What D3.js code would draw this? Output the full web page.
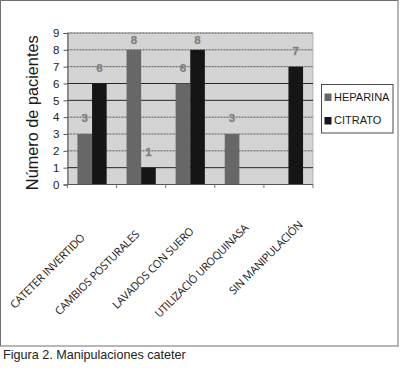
<!DOCTYPE html>
<html>
<head>
<meta charset="utf-8">
<script src="https://cdn.jsdelivr.net/npm/d3@7"></script>
<style>
  body { margin: 0; background: #fff; }
  svg { display: block; }
</style>
</head>
<body>
<div id="chart"></div>
<script>
const categories = ["CATETER INVERTIDO", "CAMBIOS POSTURALES", "LAVADOS CON SUERO", "UTILIZACIÓ UROQUINASA", "SIN MANIPULACIÓN"];
const series = ["HEPARINA", "CITRATO"];
const heparina = [3, 8, 6, 3, 0];
const citrato = [6, 1, 8, 0, 7];
const yTicks = [0, 1, 2, 3, 4, 5, 6, 7, 8, 9];
const solidGrid = [1, 5, 6];   // these gridlines look solid in the scan, the rest dotted
const colors = { HEPARINA: "#676767", CITRATO: "#151515" };

const width = 400, height = 387;
const plot = { left: 67.5, right: 313, top: 33, bottom: 184.5 };

const svg = d3.select("#chart").append("svg")
  .attr("width", width)
  .attr("height", height);

// outer frame
svg.append("rect")
  .attr("x", 0.5).attr("y", 0.5)
  .attr("width", 397.5).attr("height", 345.5)
  .attr("fill", "#fff")
  .attr("stroke", "#707070");

const x = d3.scaleBand().domain(categories).range([plot.left, plot.right]);
const x1 = d3.scaleBand().domain(series).range([0, x.bandwidth()]).paddingOuter(0.68);
const y = d3.scaleLinear().domain([0, 9]).range([plot.bottom, plot.top]);

// plot background
svg.append("rect")
  .attr("x", plot.left).attr("y", plot.top)
  .attr("width", plot.right - plot.left).attr("height", plot.bottom - plot.top)
  .attr("fill", "#d4d4d4")
  .attr("stroke", "#a8a8a8")
  .attr("stroke-width", 0.8);

// gridlines
svg.append("g").selectAll("line")
  .data(yTicks.filter(d => d > 0))
  .enter().append("line")
  .attr("x1", plot.left).attr("x2", plot.right)
  .attr("y1", d => y(d)).attr("y2", d => y(d))
  .attr("stroke", d => solidGrid.includes(d) ? "#262626" : "#5a5a5a")
  .attr("stroke-width", 1)
  .attr("stroke-dasharray", d => solidGrid.includes(d) ? null : "2,1");

// y axis
const yAxis = d3.axisLeft(y).tickValues(yTicks).tickSize(4).tickPadding(4);
const gY = svg.append("g")
  .attr("transform", `translate(${plot.left},0)`)
  .call(yAxis);
gY.select(".domain").attr("stroke", "#555");
gY.selectAll(".tick line").attr("stroke", "#555");
gY.selectAll(".tick text")
  .attr("fill", "#222")
  .style("font-family", "Liberation Sans, Arial, sans-serif")
  .style("font-size", "11.5px");

// bars
const rows = categories.map((c, i) => ({ cat: c, values: [
  { key: "HEPARINA", value: heparina[i] },
  { key: "CITRATO", value: citrato[i] }
]}));

const groups = svg.append("g").selectAll("g")
  .data(rows)
  .enter().append("g")
  .attr("transform", d => `translate(${x(d.cat)},0)`);

groups.selectAll("rect")
  .data(d => d.values.filter(v => v.value > 0))
  .enter().append("rect")
  .attr("x", d => x1(d.key))
  .attr("y", d => y(d.value))
  .attr("width", x1.bandwidth())
  .attr("height", d => y(0) - y(d.value))
  .attr("fill", d => colors[d.key]);

// value labels (pushed down when they would leave the plot, like Excel does)
groups.selectAll("text")
  .data(d => d.values.filter(v => v.value > 0))
  .enter().append("text")
  .attr("x", d => x1(d.key) + x1.bandwidth() / 2)
  .attr("y", d => Math.max(y(d.value) - 16, y(9) + 7))
  .attr("dy", "0.36em")
  .attr("text-anchor", "middle")
  .attr("fill", "#7c7c7c")
  .attr("stroke", "#8a8a8a")
  .attr("stroke-width", 0.3)
  .style("font-family", "Liberation Sans Narrow, Liberation Sans, Arial, sans-serif")
  .style("font-weight", "bold")
  .style("font-size", "11.5px")
  .text(d => d.value);

// x axis line and boundary ticks
svg.append("line")
  .attr("x1", plot.left).attr("x2", plot.right)
  .attr("y1", y(0)).attr("y2", y(0))
  .attr("stroke", "#555");
const bounds = categories.map(c => x(c)).concat([x(categories[categories.length - 1]) + x.bandwidth()]);
svg.append("g").selectAll("line")
  .data(bounds)
  .enter().append("line")
  .attr("x1", d => d).attr("x2", d => d)
  .attr("y1", y(0)).attr("y2", y(0) + 3.5)
  .attr("stroke", "#777");

// rotated category labels, placed on their own spacing as in the scan
const labelX = d3.scalePoint().domain(categories).range([85.5, 303.5]);
const labelY = d3.scalePoint().domain(categories).range([238.5, 225.5]);
svg.append("g").selectAll("text")
  .data(categories)
  .enter().append("text")
  .attr("transform", d => `translate(${labelX(d)},${labelY(d)}) rotate(-45)`)
  .attr("text-anchor", "end")
  .attr("fill", "#1a1a1a")
  .style("font-family", "Open Sans, sans-serif")
  .style("font-size", "11px")
  .style("letter-spacing", "-0.25px")
  .text(d => d);

// y axis title
svg.append("text")
  .attr("transform", `translate(38,${(plot.top + plot.bottom) / 2 + 4}) rotate(-90)`)
  .attr("text-anchor", "middle")
  .attr("fill", "#1a1a1a")
  .style("font-family", "Liberation Sans, Arial, sans-serif")
  .style("font-size", "16.3px")
  .text("Número de pacientes");

// legend
const legend = svg.append("g").attr("transform", "translate(321.5,84.5)");
legend.append("rect")
  .attr("width", 71.5).attr("height", 48.5)
  .attr("fill", "#fff")
  .attr("stroke", "#4a4a4a");
const item = legend.selectAll("g.item")
  .data(series)
  .enter().append("g")
  .attr("class", "item")
  .attr("transform", (d, i) => `translate(3,${12.5 + i * 23.5})`);
item.append("rect")
  .attr("x", 0).attr("y", -3.5)
  .attr("width", 7).attr("height", 7.5)
  .attr("fill", d => colors[d]);
item.append("text")
  .attr("x", 9.5)
  .attr("dy", "0.36em")
  .attr("fill", "#1a1a1a")
  .style("font-family", "Liberation Sans, Arial, sans-serif")
  .style("font-size", "11px")
  .text(d => d);

// caption
svg.append("text")
  .attr("x", 3).attr("y", 359)
  .attr("fill", "#222")
  .style("font-family", "Liberation Sans, Arial, sans-serif")
  .style("font-size", "12.6px")
  .text("Figura 2. Manipulaciones cateter");
</script>
</body>
</html>
